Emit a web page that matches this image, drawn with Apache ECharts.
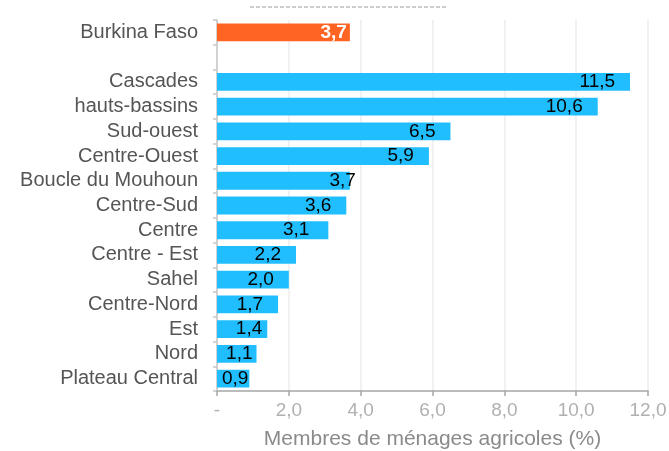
<!DOCTYPE html>
<html>
<head>
<meta charset="utf-8">
<script src="https://cdn.jsdelivr.net/npm/echarts@6/dist/echarts.min.js"></script>
<style>
  html, body { margin: 0; padding: 0; background: #fff; }
  #main { width: 669px; height: 451px; }
</style>
</head>
<body>
<div id="main"></div>
<script>
// catégories, de haut en bas (la ligne vide sépare le total national)
var regions = ['Burkina Faso', '', 'Cascades', 'hauts-bassins', 'Sud-ouest', 'Centre-Ouest',
  'Boucle du Mouhoun', 'Centre-Sud', 'Centre', 'Centre - Est', 'Sahel', 'Centre-Nord',
  'Est', 'Nord', 'Plateau Central']
var valeurs = [3.7, null, 11.5, 10.6, 6.5, 5.9, 3.7, 3.6, 3.1, 2.2, 2.0, 1.7, 1.4, 1.1, 0.9]
var xTicks = [0, 2, 4, 6, 8, 10, 12]

var orange = '#FF6422'
var bleu = '#21BEFF'

// décalage des étiquettes depuis le bout de la barre (15 px par défaut)
var decalage = { 'Burkina Faso': 3, 'Boucle du Mouhoun': -6, 'Centre': 19, 'Est': 5, 'Nord': 4, 'Plateau Central': 1 }

var myChart = echarts.init(document.getElementById('main'))

function virgule (v) {
  return v.toFixed(1).replace('.', ',')
}

var barData = valeurs.map(function (v, i) {
  if (v === null) return null
  var item = { value: v, label: {} }
  if (decalage[regions[i]] !== undefined) item.label.distance = decalage[regions[i]]
  if (i === 0) {
    // le total national en orange, étiquette blanche en gras
    item.itemStyle = { color: orange }
    item.label.color = '#fff'
    item.label.fontWeight = 'bold'
  }
  return item
})

myChart.setOption({
  animation: false,
  textStyle: { fontFamily: 'Liberation Sans, Arial, sans-serif' },
  grid: { left: 217, right: 21, top: 20, bottom: 60, containLabel: false, outerBoundsMode: 'none' },
  xAxis: {
    type: 'value',
    min: xTicks[0],
    max: xTicks[xTicks.length - 1],
    interval: 2,
    name: 'Membres de ménages agricoles (%)',
    nameLocation: 'middle',
    nameGap: 38,
    nameTextStyle: { color: '#8a8a8a', fontSize: 21 },
    axisLine: { show: true, lineStyle: { color: '#a6a6a6', width: 1.5 } },
    axisTick: { show: true, length: 5, lineStyle: { color: '#a6a6a6', width: 1.5 } },
    axisLabel: {
      color: '#b0b0b0',
      fontSize: 19,
      margin: 10,
      formatter: function (v) { return v === 0 ? '-' : virgule(v) }
    },
    splitLine: { show: true, lineStyle: { color: '#ececec', width: 1.5 } }
  },
  yAxis: {
    type: 'category',
    inverse: true,
    data: regions,
    axisLine: { show: true, lineStyle: { color: '#c8c8c8', width: 1.5 } },
    axisTick: { show: true, length: 4, alignWithLabel: false, lineStyle: { color: '#c8c8c8', width: 1.5 } },
    axisLabel: { color: '#555', fontSize: 20, margin: 19, interval: 0, hideOverlap: false }
  },
  series: [{
    type: 'bar',
    data: barData,
    barWidth: '72%',
    itemStyle: { color: bleu },
    label: {
      show: true,
      position: 'insideRight',
      distance: 15,
      color: '#000',
      fontSize: 19,
      formatter: function (p) { return virgule(p.value) }
    }
  }],
  graphic: [{
    type: 'line',
    shape: { x1: 250, y1: 7, x2: 447, y2: 7 },
    style: { stroke: '#bdbdbd', lineWidth: 1.5, lineDash: [4, 2] }
  }]
})
</script>
</body>
</html>
